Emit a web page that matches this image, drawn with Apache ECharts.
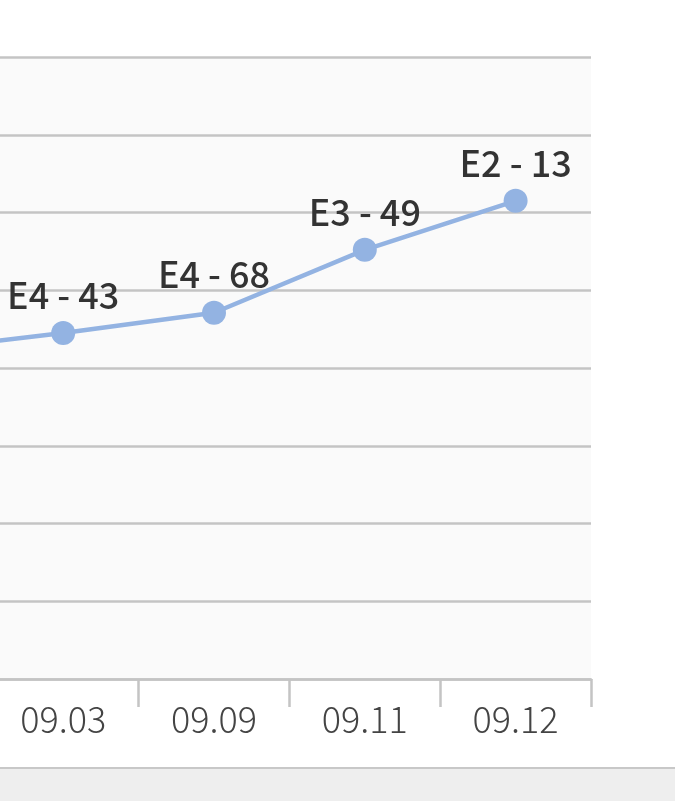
<!DOCTYPE html>
<html>
<head>
<meta charset="utf-8">
<script src="https://cdn.jsdelivr.net/npm/echarts@6/dist/echarts.min.js"></script>
<style>html,body{margin:0;padding:0;background:#fff;}#c{width:675px;height:801px;}</style>
</head>
<body>
<div id="c"></div>
<script>
const categories = ['08.30', '09.03', '09.09', '09.11', '09.12'];
const values = [4.22, 4.45, 4.71, 5.52, 6.15];
const pointLabels = ['E4 - 21', 'E4 - 43', 'E4 - 68', 'E3 - 49', 'E2 - 13'];

const chart = echarts.init(document.getElementById('c'), null, {renderer: 'canvas'});
chart.setOption({
  animation: false,
  backgroundColor: '#ffffff',
  graphic: [
    {type: 'rect', shape: {x: 0, y: 768, width: 675, height: 33}, style: {fill: '#eeeeee'}, z: -1},
    {type: 'line', shape: {x1: 0, y1: 768, x2: 675, y2: 768}, style: {stroke: '#c8c8c8', lineWidth: 2}, z: -1}
  ],
  grid: {left: -163, right: 84, top: 57, bottom: 122, show: true, backgroundColor: '#fafafa', borderWidth: 0,
         outerBoundsMode: 'none', containLabel: false},
  xAxis: {
    type: 'category',
    data: categories,
    boundaryGap: true,
    axisLine: {lineStyle: {color: '#c4c4c4', width: 2.5}},
    axisTick: {show: true, length: 28, lineStyle: {color: '#c4c4c4', width: 2.5}},
    axisLabel: {color: '#444', fontSize: 36, margin: 22, fontFamily: 'Noto Sans CJK KR', fontWeight: 300}
  },
  yAxis: {
    type: 'value', min: 0, max: 8, interval: 1,
    axisLine: {show: false}, axisTick: {show: false}, axisLabel: {show: false},
    splitLine: {lineStyle: {color: '#c4c4c4', width: 2.5}}
  },
  series: [{
    type: 'line',
    data: values,
    symbol: 'circle',
    symbolSize: 24,
    lineStyle: {color: '#93b3e2', width: 4.5},
    itemStyle: {color: '#93b3e2'},
    label: {
      show: true, position: 'top', distance: 8,
      color: '#333', fontSize: 36, fontFamily: 'Noto Sans CJK KR', fontWeight: 500,
      formatter: p => pointLabels[p.dataIndex]
    }
  }]
});
</script>
</body>
</html>
